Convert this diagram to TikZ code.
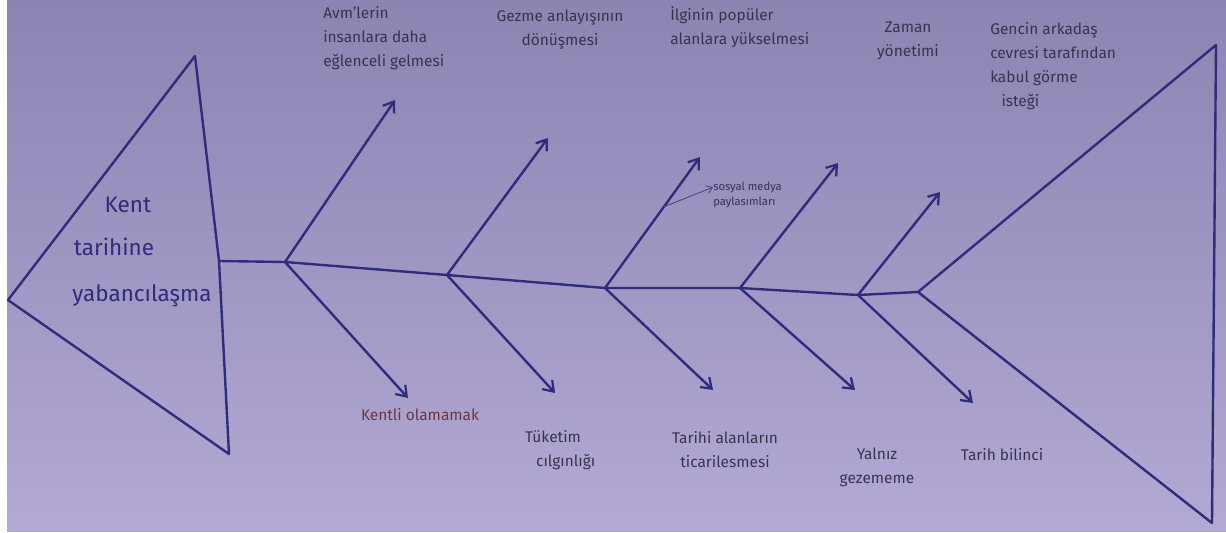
\documentclass[tikz,border=0pt]{standalone}
\usepackage{fontspec}
\setmainfont{Fira Sans}
\usepackage{tikz}
\usetikzlibrary{arrows.meta, positioning}
\usepackage{xcolor}
\definecolor{inkblue}{HTML}{2F2C7C}
\definecolor{pencil}{HTML}{3A3350}
\definecolor{redpen}{HTML}{6E3543}
\definecolor{paperTop}{HTML}{8C84B1}
\definecolor{paperBot}{HTML}{B2AAD4}

\begin{document}
\begin{tikzpicture}[
  x=0.025cm, y=-0.025cm,
  ink/.style={draw=inkblue, line width=1.7pt, line join=round, line cap=round},
  bone/.style={ink, -{Straight Barb[length=2.4mm, width=3.4mm, line width=1.6pt]}},
  note/.style={draw=inkblue!70!gray, line width=0.6pt, -{Straight Barb[length=1.4mm, width=2mm]}},
  cause/.style={font=\fontsize{11}{17}\selectfont, text=pencil, align=left, inner sep=0pt},
  headtext/.style={font=\fontsize{16}{20}\selectfont, text=inkblue, inner sep=0pt}
]
  \useasboundingbox (0,0) rectangle (1226,533);
  % Paper
  \fill[white] (0,0) rectangle (1226,533);
  \fill[top color=paperTop, bottom color=paperBot] (7,0) rectangle (1226,531);

  % Head
  \coordinate (apex) at (195,56);
  \coordinate (nose) at (8,300);
  \coordinate (chin) at (229,454);
  \coordinate (neck) at (219,261);
  \draw[ink] (apex) -- (nose) -- (chin) -- (neck) -- cycle;
  \node[headtext] (head1) at (128,205) {Kent};
  \node[headtext] (head2) at (114,247) {tarihine};
  \node[headtext] (head3) at (142,296) {yabancılaşma};

  % Spine
  \coordinate (j1) at (285,262);
  \coordinate (j2) at (447,275);
  \coordinate (j3) at (605,288);
  \coordinate (j4) at (740,288);
  \coordinate (j5) at (858,295);
  \coordinate (tail) at (918,292);
  \draw[ink] (neck) -- (j1) -- (j2) -- (j3) -- (j4) -- (j5) -- (tail);

  % Tail fin
  \coordinate (finTop) at (1216,45);
  \coordinate (finBot) at (1212,523);
  \draw[ink] (tail) -- (finTop) -- (finBot) -- cycle;

  % Bones
  \coordinate (u1) at (395,100);  \coordinate (d1) at (408,398);
  \coordinate (u2) at (548,138);  \coordinate (d2) at (555,393);
  \coordinate (u3) at (700,157);  \coordinate (d3) at (713,390);
  \coordinate (u4) at (838,163);  \coordinate (d4) at (855,390);
  \coordinate (u5) at (940,192);  \coordinate (d5) at (973,403);
  \foreach \i in {1,...,5} {
    \draw[bone] (j\i) -- (u\i);
    \draw[bone] (j\i) -- (d\i);
  }

  % Causes above
  \node[cause, anchor=north west] (avm) at (323,6) {Avm'lerin\\insanlara daha\\eğlenceli gelmesi};
  \node[cause, anchor=north, align=center] (gezme) at (560,10) {Gezme anlayışının\\dönüşmesi};
  \node[cause, anchor=north west] (ilgi) at (670,6) {İlginin popüler\\alanlara yükselmesi};
  \node[cause, anchor=north, align=center] (zaman) at (908,22) {Zaman\\yönetimi};
  \node[cause, anchor=north west] (genc) at (990,22) {Gencin arkadaş\\cevresi tarafından\\kabul görme\\\hspace*{8pt}isteği};

  % Causes below
  \node[cause, text=redpen] (kentli) at (420,415) {Kentli olamamak};
  \node[cause, align=center] (tuketim) at (553,450) {Tüketim\\\hspace*{18pt}cılgınlığı};
  \node[cause, align=center] (tarihi) at (725,450) {Tarihi alanların\\ticarilesmesi};
  \node[cause, align=center] (yalniz) at (877,467) {Yalnız\\gezememe};
  \node[cause] (bilinc) at (1002,455) {Tarih bilinci};

  % Side note on third bone
  \path (j3) -- (u3) coordinate[pos=0.62] (onbone);
  \node[cause, font=\fontsize{8}{11}\selectfont, anchor=west] (sosyal) at (713,195) {sosyal medya\\paylasımları};
  \draw[note] (onbone) -- ([yshift=-4pt]sosyal.north west);
\end{tikzpicture}
\end{document}
